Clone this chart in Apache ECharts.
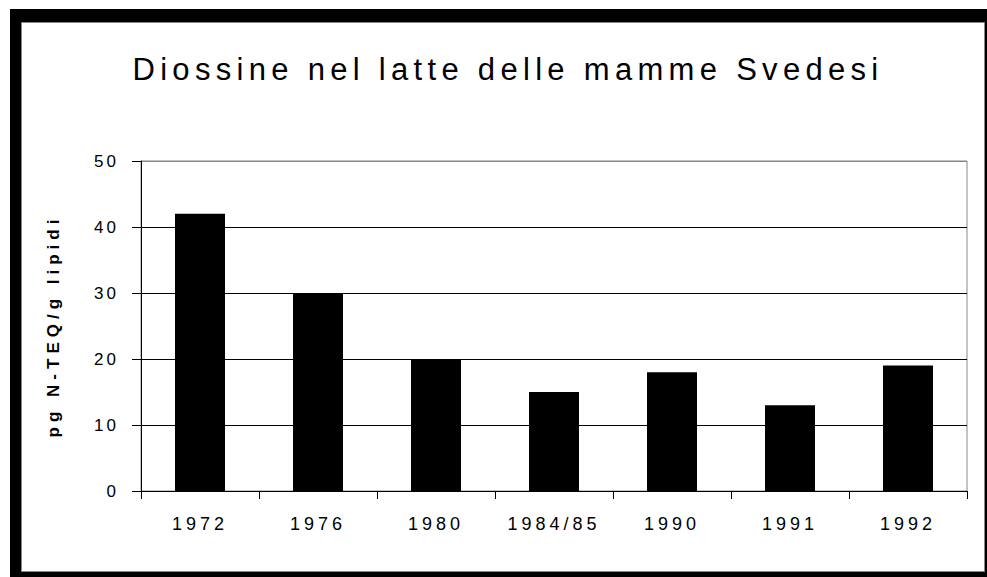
<!DOCTYPE html>
<html><head><meta charset="utf-8">
<script src="https://cdn.jsdelivr.net/npm/echarts@6/dist/echarts.min.js"></script>
<style>
html,body{margin:0;padding:0;background:#fff;}
#c{width:987px;height:577px;}
text[style*="31px"]{letter-spacing:5.3px;}
text[style*="18px"]{letter-spacing:4px;}
text[style*="17px"]{letter-spacing:3px;}
text[style*="bold"]{letter-spacing:5px;}
</style>
</head><body>
<div id="c"></div>
<script>
const categories = ['1972','1976','1980','1984/85','1990','1991','1992'];
const values = [42, 30, 20, 15, 18, 13, 19];
const yTicks = [0, 10, 20, 30, 40, 50];
const titleText = 'Diossine nel latte delle mamme Svedesi';
const yName = 'pg N-TEQ/g lipidi';

const FONT = "'Liberation Sans', Arial, sans-serif";
const chart = echarts.init(document.getElementById('c'), null, {renderer:'svg'});
chart.setOption({
  animation:false,
  backgroundColor:'#fff',
  graphic:[
    {type:'rect', z:-10, shape:{x:10,y:9,width:977,height:568}, style:{fill:'#000'}},
    {type:'rect', z:-9, shape:{x:21.5,y:22.5,width:963,height:549}, style:{fill:'#fff', stroke:'#888', lineWidth:1}}
  ],
  title:{
    text:titleText, left:503, top:49, textAlign:'center',
    textStyle:{fontFamily:FONT, fontSize:31, fontWeight:'normal', color:'#000'}
  },
  grid:{left:141, right:20, top:161, bottom:86, show:true, borderColor:'#888', borderWidth:1, backgroundColor:'transparent'},
  xAxis:{
    type:'category', data:categories, boundaryGap:true,
    axisLine:{lineStyle:{color:'#000', width:1}},
    axisTick:{show:true, length:8, alignWithLabel:false, lineStyle:{color:'#000'}},
    axisLabel:{margin:24, color:'#000', fontFamily:FONT, fontSize:18}
  },
  yAxis:{
    type:'value', min:yTicks[0], max:yTicks[yTicks.length-1], interval:10,
    name:yName, nameLocation:'middle', nameGap:79, nameRotate:90,
    nameTextStyle:{fontFamily:FONT, fontSize:17, fontWeight:'bold', color:'#000'},
    axisLine:{show:true, lineStyle:{color:'#000', width:1}},
    axisTick:{show:true, length:9, lineStyle:{color:'#000'}},
    axisLabel:{margin:22, color:'#000', fontFamily:FONT, fontSize:17},
    splitLine:{show:true, lineStyle:{color:['#000','#000','#000','#000','#000','#888'], width:1}}
  },
  series:[{
    type:'bar', data:values, barWidth:50,
    itemStyle:{color:'#000'}
  }]
});
</script>
</body></html>
